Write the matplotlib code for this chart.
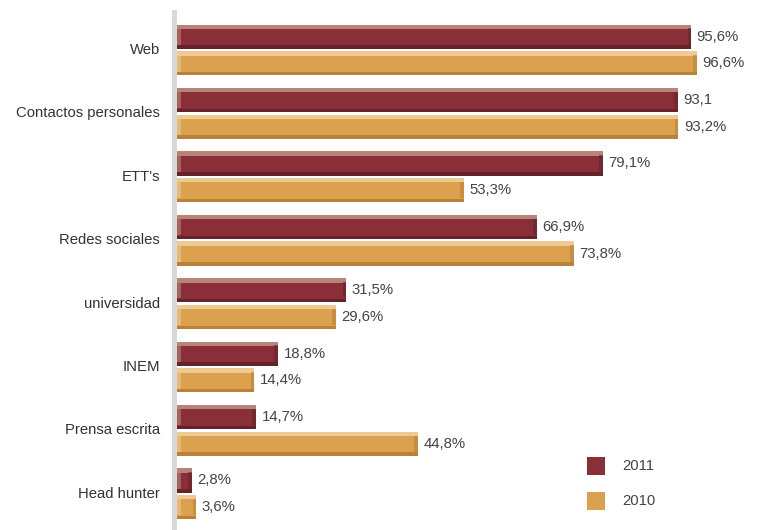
import matplotlib
matplotlib.use('Agg')
import matplotlib.pyplot as plt
from matplotlib.patches import Rectangle

categories = ['Web', 'Contactos personales', "ETT's", 'Redes sociales',
              'universidad', 'INEM', 'Prensa escrita', 'Head hunter']
values_2011 = [95.6, 93.1, 79.1, 66.9, 31.5, 18.8, 14.7, 2.8]
values_2010 = [96.6, 93.2, 53.3, 73.8, 29.6, 14.4, 44.8, 3.6]
labels_2011 = ['95,6%', '93,1', '79,1%', '66,9%', '31,5%', '18,8%', '14,7%', '2,8%']
labels_2010 = ['96,6%', '93,2%', '53,3%', '73,8%', '29,6%', '14,4%', '44,8%', '3,6%']
series_names = ['2011', '2010']

plt.rcParams['font.family'] = ['Liberation Sans', 'DejaVu Sans']

# main, light top/left, dark bottom/right
col_2011 = ('#8a2f37', '#b78578', '#65222a')
col_2010 = ('#dba14f', '#edca93', '#b98236')

W, H = 765, 530
fig = plt.figure(figsize=(W / 100, H / 100), dpi=100)
x0 = 177
px_per_unit = 5.38
ax = fig.add_axes([x0 / W, 0, 1 - x0 / W, 1])
ax.set_xlim(0, (W - x0) / px_per_unit)
spacing = 63.4
ax.set_ylim(-(H - 50) / spacing, 50 / spacing)
ax.axis('off')

bh = 0.38
cap = 0.7  # end bevel width in data units


def bevel_bars(ys, vals, cols):
    main, light, dark = cols
    ax.barh(ys, vals, height=bh, color=main, linewidth=0)
    ax.barh([y + bh / 2 - bh * 0.09 for y in ys], vals, height=bh * 0.18,
            color=light, linewidth=0)
    ax.barh([y - bh / 2 + bh * 0.07 for y in ys], vals, height=bh * 0.14,
            color=dark, linewidth=0)
    ax.barh(ys, [cap] * len(ys), height=bh * 0.68, color=light, alpha=0.6, linewidth=0)
    ax.barh(ys, [cap] * len(ys), height=bh * 0.68, left=[v - cap for v in vals],
            color=dark, alpha=0.6, linewidth=0)


y_mid = [-i for i in range(len(categories))]
y11 = [y + 0.21 for y in y_mid]
y10 = [y - 0.21 for y in y_mid]
bevel_bars(y11, values_2011, col_2011)
bevel_bars(y10, values_2010, col_2010)

for y, v, lab in zip(y11, values_2011, labels_2011):
    ax.text(v + 1.0, y, lab, va='center', ha='left', fontsize=10.7, color='#444444')
for y, v, lab in zip(y10, values_2010, labels_2010):
    ax.text(v + 1.0, y, lab, va='center', ha='left', fontsize=10.7, color='#444444')

for y, cat in zip(y_mid, categories):
    ax.text(-3.2, y, cat, va='center', ha='right', fontsize=10.7, color='#333333',
            clip_on=False)

# grey axis bar
fig.patches.append(Rectangle((172 / W, 0), 5 / W, 1 - 10 / H, transform=fig.transFigure,
                             color='#d9d9d9', linewidth=0))

# legend
for i, (name, c) in enumerate(zip(series_names, [col_2011[0], col_2010[0]])):
    top = 457 + i * 35
    fig.patches.append(Rectangle((587 / W, 1 - (top + 18) / H), 18 / W, 18 / H,
                                 transform=fig.transFigure, color=c, linewidth=0))
    fig.text(622 / W, 1 - (top + 9) / H, name, va='center', ha='left',
             fontsize=10.7, color='#444444')

fig.savefig('out.png', dpi=100)
